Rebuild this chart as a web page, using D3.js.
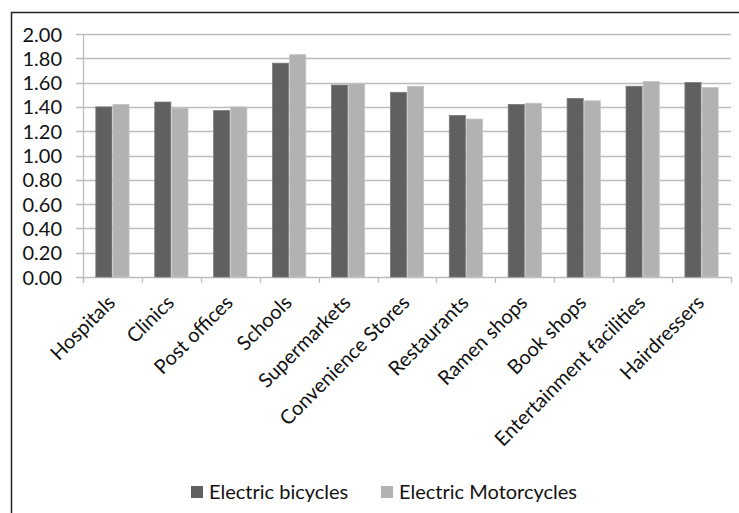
<!DOCTYPE html>
<html><head><meta charset="utf-8">
<script src="https://cdn.jsdelivr.net/npm/d3@7"></script>
<style>
html,body{margin:0;padding:0;background:#fff;}
svg{display:block;}
text{font-family:"Lato","Open Sans",sans-serif;fill:#111;}
</style></head>
<body>
<svg id="c" width="739" height="513"></svg>
<script>
const categories = ["Hospitals","Clinics","Post offices","Schools","Supermarkets","Convenience Stores","Restaurants","Ramen shops","Book shops","Entertainment facilities","Hairdressers"];
const seriesNames = ["Electric bicycles","Electric Motorcycles"];
const electricBicycles = [1.40,1.44,1.37,1.76,1.58,1.52,1.33,1.42,1.47,1.57,1.60];
const electricMotorcycles = [1.42,1.39,1.40,1.83,1.59,1.57,1.30,1.43,1.45,1.61,1.56];
const yTicks = [0,0.2,0.4,0.6,0.8,1.0,1.2,1.4,1.6,1.8,2.0];
const colors = ["#606060","#b2b2b2"];

const svg = d3.select("#c");
// outer frame
svg.append("path").attr("d","M11.5,513 V12.5 H739").attr("fill","none").attr("stroke","#222").attr("stroke-width",1.5);

const m = {left:83, right:731, top:34, bottom:277};
const x = d3.scaleBand().domain(categories).range([m.left,m.right]).paddingInner(0).paddingOuter(0);
const y = d3.scaleLinear().domain([0,2]).range([m.bottom,m.top]);
const inner = d3.scaleBand().domain([0,1]).range([0,x.bandwidth()]).paddingInner(0.06).paddingOuter(0.75);

// gridlines
svg.append("g").selectAll("line").data(yTicks).join("line")
  .attr("x1",m.left-7).attr("x2",m.right)
  .attr("y1",d=>Math.round(y(d))+0.5).attr("y2",d=>Math.round(y(d))+0.5)
  .attr("stroke","#bdbdbd").attr("stroke-width",1.3);

// y axis line
svg.append("line").attr("x1",m.left+0.5).attr("x2",m.left+0.5).attr("y1",m.top).attr("y2",m.bottom+6)
  .attr("stroke","#bdbdbd").attr("stroke-width",1.3);

// category ticks
svg.append("g").selectAll("line").data(categories.concat(["__end"])).join("line")
  .attr("x1",(d,i)=>Math.round(m.left + i*x.step())+0.5).attr("x2",(d,i)=>Math.round(m.left + i*x.step())+0.5)
  .attr("y1",m.bottom).attr("y2",m.bottom+6).attr("stroke","#bdbdbd").attr("stroke-width",1.3);

// y labels
const yAxis = d3.axisLeft(y).tickValues(yTicks).tickFormat(d3.format(".2f")).tickSize(0).tickPadding(14);
const ya = svg.append("g").attr("transform",`translate(${m.left-7},0)`).call(yAxis);
ya.select(".domain").remove();
ya.selectAll("text").style("font-size","20px").attr("fill","#111").attr("dy","0.35em");

// bars
const series = [electricBicycles, electricMotorcycles];
series.forEach((vals,si)=>{
  svg.append("g").selectAll("rect").data(vals).join("rect")
    .attr("x",(d,i)=>x(categories[i])+inner(si))
    .attr("width",inner.bandwidth())
    .attr("y",d=>y(d))
    .attr("height",d=>y(0)-y(d))
    .attr("fill",colors[si])
    .attr("stroke", si===0?"#7a7a7a":"#c4c4c4").attr("stroke-width",0.8);
});

// category labels
svg.append("g").selectAll("text").data(categories).join("text")
  .attr("transform",d=>`translate(${x(d)+x.bandwidth()/2-6},${m.bottom+17}) rotate(-45)`)
  .attr("text-anchor","end").attr("dy","0.7em")
  .style("font-size","20px").text(d=>d);

// legend
const lg = svg.append("g");
const legX = [191, 381];
seriesNames.forEach((n,i)=>{
  lg.append("rect").attr("x",legX[i]).attr("y",486).attr("width",12).attr("height",12).attr("fill",colors[i]);
  lg.append("text").attr("x",legX[i]+18).attr("y",492).attr("dy","0.35em").style("font-size","20px").text(n);
});
</script>
</body></html>
